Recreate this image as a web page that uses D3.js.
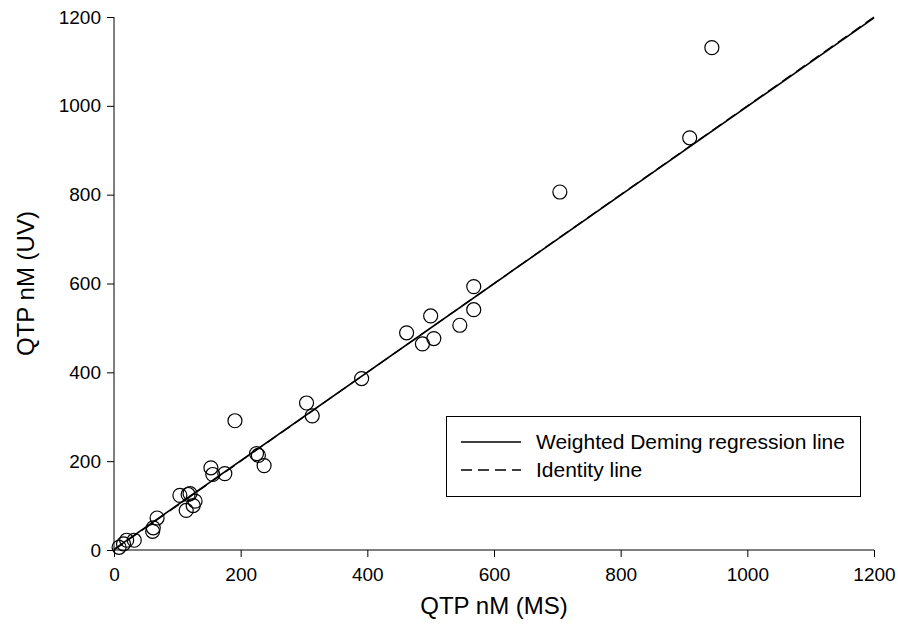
<!DOCTYPE html>
<meta charset="utf-8">
<script src="https://d3js.org/d3.v7.min.js"></script>
<style>
  body { margin: 0; background: #fff; }
  text { font-family: "Liberation Sans", Arial, sans-serif; fill: #000; }
</style>
<div id="chart"></div>
<script>
  // QTP concentrations, MS vs UV
  const msValues = [8, 15, 20, 32, 61, 62, 68, 104, 114, 117, 120, 125, 128, 153, 156, 175, 191, 225, 228, 237, 304, 313, 391, 462, 487, 500, 505, 546, 568, 568, 704, 909, 944]
  const uvValues = [6, 14, 22, 22, 42, 50, 72, 123, 89, 125, 127, 100, 110, 185, 170, 172, 291, 217, 213, 190, 331, 302, 386, 489, 464, 527, 476, 506, 593, 541, 806, 928, 1131]
  const tickValues = [0, 200, 400, 600, 800, 1000, 1200]
  const regression = { slope: 0.997, intercept: 1.5 }
  const legendLabels = ["Weighted Deming regression line", "Identity line"]

  const W = 898, H = 635
  const margin = { top: 17, right: 24, bottom: 85, left: 114 }

  const svg = d3.select("#chart").append("svg")
    .attr("width", W).attr("height", H)

  const x = d3.scaleLinear().domain([0, 1200]).range([margin.left, W - margin.right])
  const y = d3.scaleLinear().domain([0, 1200]).range([H - margin.bottom, margin.top])

  // axes
  const xAxis = svg.append("g")
    .attr("transform", `translate(0,${y(0)})`)
    .call(d3.axisBottom(x).tickValues(tickValues).tickSize(7).tickPadding(11).tickFormat(d3.format("d")))
  const yAxis = svg.append("g")
    .attr("transform", `translate(${x(0)},0)`)
    .call(d3.axisLeft(y).tickValues(tickValues).tickSize(7).tickPadding(6).tickFormat(d3.format("d")))

  ;[xAxis, yAxis].forEach(a => {
    a.select(".domain").attr("stroke", "#000")
    a.selectAll(".tick line").attr("stroke", "#000")
    a.selectAll(".tick text").style("font-size", "19px").attr("font-family", "Liberation Sans, Arial, sans-serif")
  })
  xAxis.select(".domain").attr("d", `M${x(0)},0H${x(1200)}`)
  yAxis.select(".domain").attr("d", `M0,${y(0)}V${y(1200)}`)

  // identity line (dashed) and regression line
  svg.append("line")
    .attr("x1", x(0)).attr("y1", y(0)).attr("x2", x(1200)).attr("y2", y(1200))
    .attr("stroke", "#000").attr("stroke-width", 1.3).attr("stroke-dasharray", "11,6")
  svg.append("line")
    .attr("x1", x(0)).attr("y1", y(regression.intercept))
    .attr("x2", x(1200)).attr("y2", y(regression.intercept + regression.slope * 1200))
    .attr("stroke", "#000").attr("stroke-width", 1.6)

  // points
  svg.selectAll("circle.pt")
    .data(msValues.map((v, i) => [v, uvValues[i]]))
    .join("circle")
    .attr("class", "pt")
    .attr("cx", d => x(d[0]))
    .attr("cy", d => y(d[1]))
    .attr("r", 7)
    .attr("fill", "none")
    .attr("stroke", "#000")
    .attr("stroke-width", 1.2)

  // axis titles
  svg.append("text")
    .attr("x", (x(0) + x(1200)) / 2).attr("y", 614)
    .attr("text-anchor", "middle").style("font-size", "24px")
    .text("QTP nM (MS)")
  svg.append("text")
    .attr("transform", `translate(34,${(y(0) + y(1200)) / 2}) rotate(-90)`)
    .attr("text-anchor", "middle").style("font-size", "24px")
    .text("QTP nM (UV)")

  // legend
  const legend = svg.append("g")
  legend.append("rect")
    .attr("x", 446.5).attr("y", 416.5).attr("width", 414).attr("height", 80)
    .attr("fill", "#fff").attr("stroke", "#000").attr("stroke-width", 1)
  legendLabels.forEach((label, i) => {
    const ly = 442 + i * 28
    legend.append("line")
      .attr("x1", 461).attr("x2", 521).attr("y1", ly).attr("y2", ly)
      .attr("stroke", "#000").attr("stroke-width", 1.3)
      .attr("stroke-dasharray", i === 1 ? "11,6" : null)
    legend.append("text")
      .attr("x", 536).attr("y", ly + 7)
      .style("font-size", "21px")
      .text(label)
  })
</script>
